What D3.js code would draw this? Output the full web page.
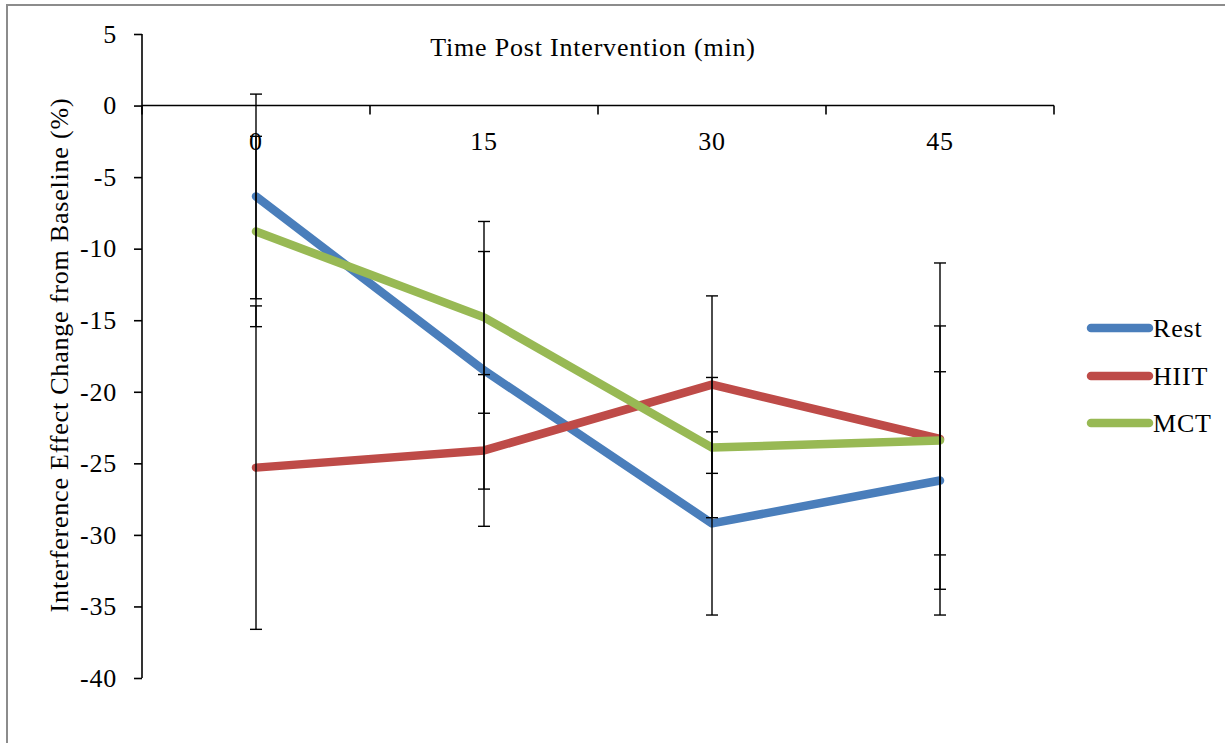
<!DOCTYPE html>
<html>
<head>
<meta charset="utf-8">
<script src="https://cdn.jsdelivr.net/npm/d3@7"></script>
<style>
  html, body { margin: 0; padding: 0; background: #fff; }
  svg { display: block; }
  text { font-family: "Liberation Serif", "DejaVu Serif", serif; fill: #000; }
</style>
</head>
<body>
<svg id="chart" width="1225" height="743"></svg>
<script>
// ---- data ----
const categories = ["0", "15", "30", "45"];
const seriesNames = ["Rest", "HIIT", "MCT"];
const restValues = [-6.35, -18.5, -29.2, -26.2];
const restErrors = [7.15, 8.3, 6.4, 7.6];
const hiitValues = [-25.3, -24.1, -19.5, -23.3];
const hiitErrors = [11.3, 5.3, 6.2, 12.3];
const mctValues = [-8.8, -14.8, -23.9, -23.4];
const mctErrors = [6.65, 6.7, 4.9, 8.0];
const yTicks = [5, 0, -5, -10, -15, -20, -25, -30, -35, -40];
const xTitle = "Time Post Intervention (min)";
const yTitle = "Interference Effect Change from Baseline (%)";
const colors = ["#4a7ebb", "#be4b48", "#98b954"];

const series = [
  { name: seriesNames[0], values: restValues, errors: restErrors, color: colors[0] },
  { name: seriesNames[1], values: hiitValues, errors: hiitErrors, color: colors[1] },
  { name: seriesNames[2], values: mctValues, errors: mctErrors, color: colors[2] }
];

const FS = 26, LS = "0.8px";
const svg = d3.select("#chart");

// outer frame
svg.append("rect")
  .attr("x", 7).attr("y", 5).attr("width", 1240).attr("height", 760)
  .attr("fill", "none").attr("stroke", "#8c8c8c").attr("stroke-width", 2);

const plotLeft = 142, plotRight = 1054;
const y = d3.scaleLinear().domain([-40, 5]).range([678, 34]);
const x = d3.scaleBand().domain(categories).range([plotLeft, plotRight]).padding(0);
const cx = c => x(c) + x.bandwidth() / 2;

// y axis
const yAxis = d3.axisLeft(y).tickValues(yTicks).tickSize(8).tickPadding(17).tickFormat(d => String(d));
const gy = svg.append("g").attr("transform", `translate(${plotLeft},0)`).call(yAxis);
gy.select(".domain").attr("d", `M-0,${y(5)}H0V${y(-40)}H-0`).attr("stroke", "#000").attr("stroke-width", 1.6);
gy.selectAll(".tick line").attr("stroke", "#000").attr("stroke-width", 1.6);
gy.selectAll(".tick text").attr("font-size", FS).attr("font-family", "Liberation Serif")
  .attr("letter-spacing", LS).attr("fill", "#000");

// x axis at y = 0
const y0 = y(0);
const gx = svg.append("g");
gx.append("line").attr("x1", plotLeft).attr("x2", plotRight).attr("y1", y0).attr("y2", y0)
  .attr("stroke", "#000").attr("stroke-width", 1.6);
const boundaries = categories.map(c => x(c)).concat([plotRight]);
gx.selectAll("line.xt").data(boundaries).enter().append("line").attr("class", "xt")
  .attr("x1", d => d).attr("x2", d => d).attr("y1", y0).attr("y2", y0 + 9)
  .attr("stroke", "#000").attr("stroke-width", 1.6);
gx.selectAll("text.xl").data(categories).enter().append("text").attr("class", "xl")
  .attr("x", d => cx(d)).attr("y", y0 + 44)
  .attr("text-anchor", "middle").attr("font-size", FS).attr("letter-spacing", LS).text(d => d);

// axis titles
svg.append("text").attr("x", 593).attr("y", 56).attr("text-anchor", "middle")
  .attr("font-size", FS).attr("letter-spacing", LS).text(xTitle);
svg.append("text").attr("transform", `translate(68,355) rotate(-90)`).attr("text-anchor", "middle")
  .attr("font-size", FS).attr("letter-spacing", LS).text(yTitle);

// lines
const line = d3.line().x((d, i) => cx(categories[i])).y(d => y(d));
series.forEach(s => {
  svg.append("path").datum(s.values).attr("d", line)
    .attr("fill", "none").attr("stroke", s.color).attr("stroke-width", 8.5)
    .attr("stroke-linecap", "round").attr("stroke-linejoin", "round");
});

// error bars
const capHalf = 6;
series.forEach(s => {
  const g = svg.append("g");
  s.values.forEach((v, i) => {
    const px = cx(categories[i]);
    const hi = y(v + s.errors[i]), lo = y(v - s.errors[i]);
    g.append("line").attr("x1", px).attr("x2", px).attr("y1", hi).attr("y2", lo)
      .attr("stroke", "#000").attr("stroke-width", 1.4);
    [hi, lo].forEach(yy => g.append("line").attr("x1", px - capHalf).attr("x2", px + capHalf)
      .attr("y1", yy).attr("y2", yy).attr("stroke", "#000").attr("stroke-width", 1.4));
  });
});

// legend
const legY = [328, 376, 423];
series.forEach((s, i) => {
  svg.append("line").attr("x1", 1091).attr("x2", 1149).attr("y1", legY[i]).attr("y2", legY[i])
    .attr("stroke", s.color).attr("stroke-width", 8.5).attr("stroke-linecap", "round");
  svg.append("text").attr("x", 1153).attr("y", legY[i] + 9).attr("font-size", FS)
    .attr("letter-spacing", LS).text(s.name);
});
</script>
</body>
</html>
